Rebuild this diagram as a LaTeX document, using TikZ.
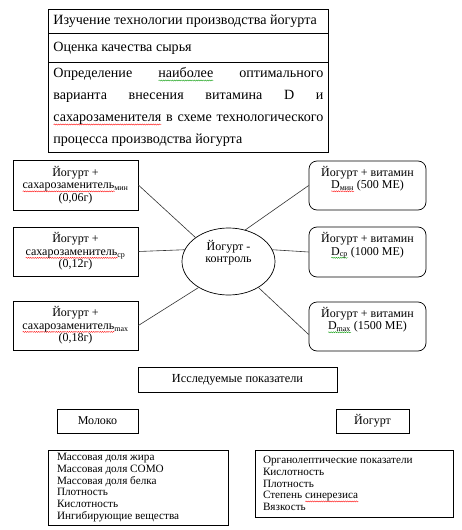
\documentclass[tikz,border=0pt]{standalone}
\usepackage{fontspec}
\setmainfont{Liberation Serif}
\usetikzlibrary{shapes.geometric,decorations.pathmorphing}
\newdimen\wavew
\newsavebox\wavebox
\newcommand\wavyul[2]{\leavevmode\sbox\wavebox{#2}\wavew=\wd\wavebox\rlap{\lower2.6pt\hbox{\tikz[x=1pt,y=1pt,baseline=0pt,sharp corners]\draw[sharp corners,color=#1,line width=0.35pt,decorate,decoration={snake,amplitude=0.55pt,segment length=2.2pt}] (0,0) -- (\wavew,0);}}\usebox\wavebox}
\newcommand\rw[1]{\wavyul{red}{#1}}
\newcommand\gw[1]{\wavyul{green!60!black}{#1}}
\begin{document}
\begin{tikzpicture}[x=1pt,y=-1pt,
  box/.style={draw, line width=0.7pt, inner sep=0pt, align=center, font=\fontsize{12}{12.5}\selectfont},
  rbox/.style={box, rounded corners=8pt},
  topbox/.style={draw, line width=0.7pt, inner sep=0pt, anchor=north west, minimum width=280, font=\fontsize{14.1}{22}\selectfont},
  conn/.style={draw, line width=0.6pt, black!80}]
\path[fill=white, use as bounding box] (0,0) rectangle (462,530);

% top block
\node[topbox, minimum height=24] (t1) at (48,9) {\parbox{270pt}{Изучение технологии производства йогурта}};
\node[topbox, minimum height=29] (t2) at (48,33) {\parbox{270pt}{Оценка качества сырья}};
\node[topbox, minimum height=90] (t3) at (48,62) {\parbox{270pt}{%
\makebox[270pt][s]{Определение \gw{наиболее} оптимального}\\
\makebox[270pt][s]{варианта внесения витамина D и}\\
\makebox[270pt][s]{\rw{сахарозаменителя} в схеме технологического}\\
процесса производства йогурта}};

% left boxes
\node[box, minimum width=125, minimum height=50] (l1) at (75.5,185) {Йогурт +\\\rw{сахарозаменитель}\textsubscript{мин}\\(0,06г)};
\node[box, minimum width=125, minimum height=49] (l2) at (75.5,251.5) {Йогурт +\\\rw{сахарозаменитель}\textsubscript{ср}\\(0,12г)};
\node[box, minimum width=125, minimum height=49] (l3) at (75.5,325.5) {Йогурт +\\\rw{сахарозаменитель}\textsubscript{max}\\(0,18г)};

% centre
\node[draw, ellipse, line width=0.7pt, inner sep=0pt, minimum width=93, minimum height=67, font=\fontsize{12}{12.5}\selectfont] (c) at (228.5,261.5) {\parbox[c][43pt][t]{56pt}{\centering Йогурт -\\контроль}};

% right boxes
\node[rbox, minimum width=117, minimum height=49] (r1) at (367.5,185.5) {\parbox[c][39pt][t]{112pt}{\centering Йогурт + витамин\\\rw{D\textsubscript{мин}} (500 МЕ)}};
\node[rbox, minimum width=117, minimum height=50] (r2) at (367.5,252) {\parbox[c][39pt][t]{112pt}{\centering Йогурт + витамин\\\gw{D\textsubscript{ср}} (1000 МЕ)}};
\node[rbox, minimum width=117, minimum height=49] (r3) at (367.5,326.5) {\parbox[c][39pt][t]{112pt}{\centering Йогурт + витамин\\\gw{D\textsubscript{max}} (1500 МЕ)}};

% connectors
\draw[conn] (l1.east) -- (c.144);
\draw[conn] (l2.east) -- (c.165);
\draw[conn] (l3.east) -- (c.221);
\draw[conn] (c.62) -- (r1.west);
\draw[conn] (c.15) -- (r2.west);
\draw[conn] (c.319) -- ([yshift=-8pt]r3.west);

% bottom
\node[box, minimum width=199, minimum height=25, font=\fontsize{12.3}{13}\selectfont] (ip) at (237.5,379.5) {Исследуемые показатели};
\node[box, minimum width=81, minimum height=24, font=\fontsize{12}{13}\selectfont] (milk) at (97.5,421) {Молоко};
\node[box, minimum width=73, minimum height=24, font=\fontsize{12}{13}\selectfont] (yog) at (372.5,421) {Йогурт};
\node[box, minimum width=180, minimum height=75, font=\fontsize{11.2}{11.7}\selectfont] (ml) at (138,487.5) {\parbox{162pt}{\raggedright Массовая доля жира\\Массовая доля СОМО\\Массовая доля белка\\Плотность\\Кислотность\\Ингибирующие вещества}};
\node[box, minimum width=198, minimum height=67, font=\fontsize{11.2}{11.7}\selectfont] (yl) at (354,483.5) {\parbox{182pt}{\raggedright Органолептические показатели\\Кислотность\\Плотность\\Степень \rw{синерезиса}\\Вязкость}};
\end{tikzpicture}
\end{document}
